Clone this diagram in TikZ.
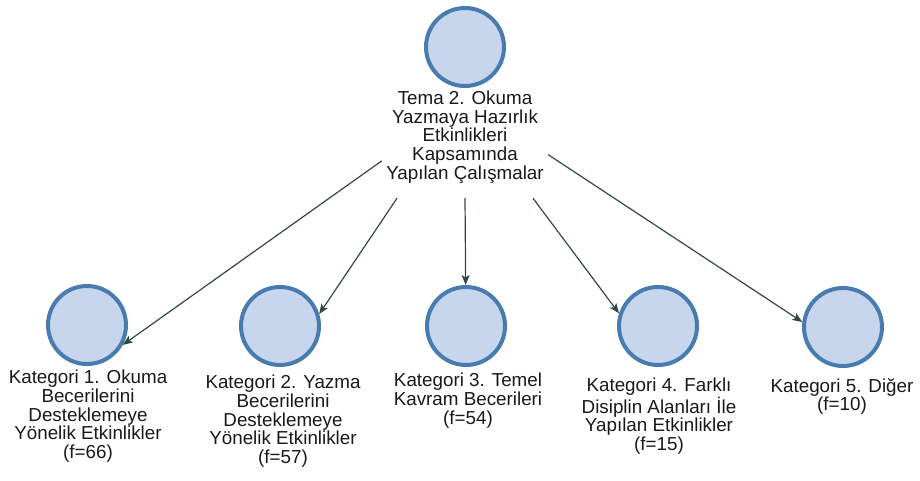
\documentclass[tikz,border=0pt]{standalone}
\usepackage{fontspec}
\setmainfont{Liberation Sans}
\usetikzlibrary{arrows.meta, positioning}
\definecolor{NodeEdge}{RGB}{72,124,176}
\definecolor{NodeFill}{RGB}{199,214,236}
\definecolor{ArrowDark}{RGB}{50,72,70}

\begin{document}
\begin{tikzpicture}[x=1pt,y=1pt,
        nd/.style={circle,draw=NodeEdge,fill=NodeFill,line width=4pt,
                   minimum size=78pt,inner sep=0pt},
        lbl/.style={align=center,inner sep=0pt,text=black!90,
                    font=\fontsize{18.8}{18.6}\selectfont},
        arr/.style={draw=ArrowDark,line width=1.2pt,
                    -{Stealth[length=10pt,width=8pt,inset=2.5pt]}}
      ]
        \useasboundingbox (0,0) rectangle (920,480);
        \node[nd] (top) at (465,433) {};
        \node[lbl,minimum width=166pt,minimum height=122pt] (tema) at (465,343)
          {Tema 2. Okuma\\Yazmaya Hazırlık\\Etkinlikleri\\Kapsamında\\Yapılan Çalışmalar};
        \node[nd] (k1) at (87,155) {};
        \node[nd] (k2) at (280,154) {};
        \node[nd] (k3) at (466,154) {};
        \node[nd] (k4) at (658,154) {};
        \node[nd] (k5) at (843,153) {};
        \node[lbl,anchor=north] (k1t) at (88,110)
          {Kategori 1. Okuma\\Becerilerini\\Desteklemeye\\Yönelik Etkinlikler\\(f=66)};
        \node[lbl,anchor=north] (k2t) at (283,105)
          {Kategori 2. Yazma\\Becerilerini\\Desteklemeye\\Yönelik Etkinlikler\\(f=57)};
        \node[lbl,anchor=north] (k3t) at (468,107)
          {Kategori 3. Temel\\Kavram Becerileri\\(f=54)};
        \node[lbl,anchor=north] (k4t) at (659,102)
          {Kategori 4. Farklı\\Disiplin Alanları İle\\Yapılan Etkinlikler\\(f=15)};
        \node[lbl,anchor=north] (k5t) at (842,102)
          {Kategori 5. Diğer\\(f=10)};
        \draw[arr] (tema.196.8) -- (k1.-29);
        \draw[arr] (tema.222.7) -- (k2.17);
        \draw[arr] (tema.south) -- (k3);
        \draw[arr] (tema.318.1) -- (k4.162);
        \draw[arr] (tema.348) -- (k5.173);
      \end{tikzpicture}
\end{document}
